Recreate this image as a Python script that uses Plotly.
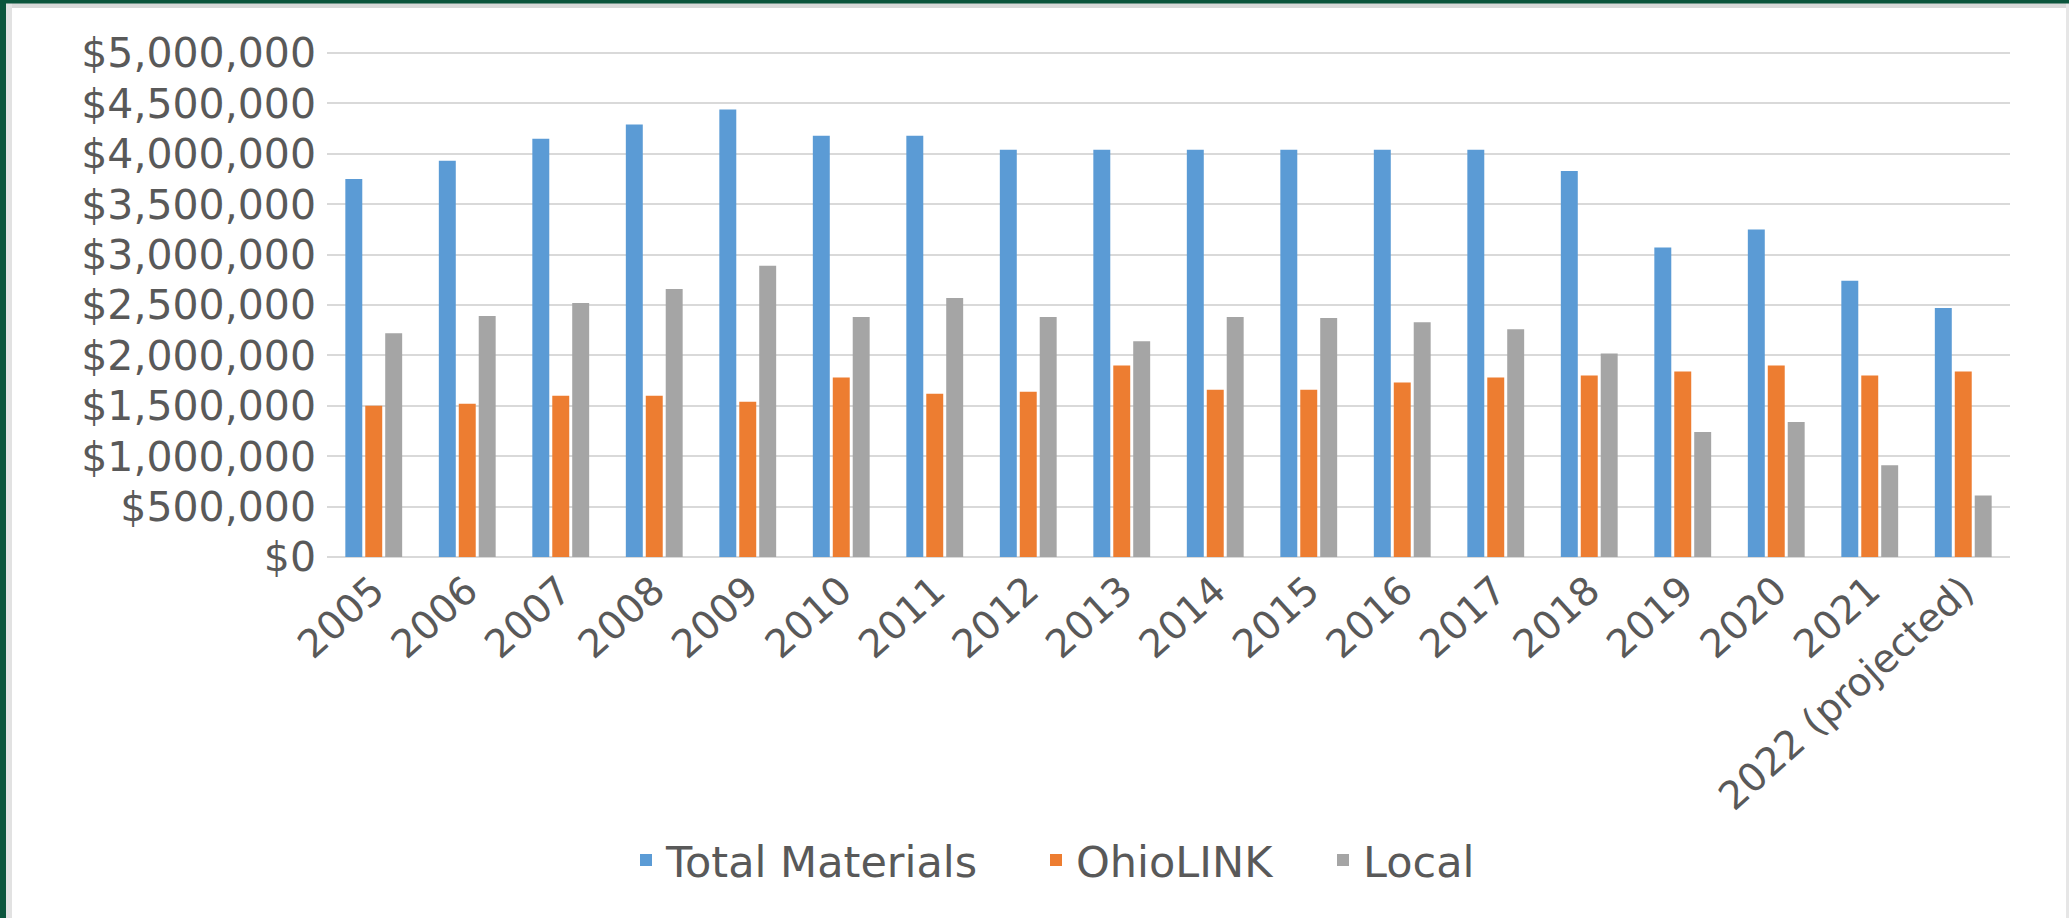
import plotly.graph_objects as go

# ---- data ----
years = ["2005", "2006", "2007", "2008", "2009", "2010", "2011", "2012", "2013",
         "2014", "2015", "2016", "2017", "2018", "2019", "2020", "2021",
         "2022 (projected)"]
total_materials = [3750000, 3930000, 4150000, 4290000, 4440000, 4180000, 4180000,
                   4040000, 4040000, 4040000, 4040000, 4040000, 4040000, 3830000,
                   3070000, 3250000, 2740000, 2470000]
ohiolink = [1500000, 1520000, 1600000, 1600000, 1540000, 1780000, 1620000, 1640000,
            1900000, 1660000, 1660000, 1730000, 1780000, 1800000, 1840000, 1900000,
            1800000, 1840000]
local = [2220000, 2390000, 2520000, 2660000, 2890000, 2380000, 2570000, 2380000,
         2140000, 2380000, 2370000, 2330000, 2260000, 2020000, 1240000, 1340000,
         910000, 610000]
series_names = ["Total Materials", "OhioLINK", "Local"]
y_ticks = list(range(0, 5000001, 500000))

# ---- layout geometry (pixels) ----
W, H = 2069, 918
L, R, T, B = 327, 2010, 51, 557
Y_MAX = 5020000

def px(x):
    return (x - L) / (R - L)

def py(y):
    return (B - y) / (B - T)

FONT = "DejaVu Sans"
TXT = "#595959"
colors = ["#5B9BD5", "#ED7D31", "#A5A5A5"]

fig = go.Figure()
for i, (name, vals) in enumerate(zip(series_names, [total_materials, ohiolink, local])):
    fig.add_trace(go.Bar(
        x=years, y=vals, name=name, showlegend=True,
        marker=dict(color=colors[i], line=dict(width=0)),
        legend="legend" if i == 0 else f"legend{i+1}",
    ))

leg_centers = [646, 1056, 1343]
legend_common = dict(
    orientation="h", xref="container", yref="container",
    xanchor="left", yanchor="middle", y=1 - 860 / H,
    font=dict(family=FONT, size=43, color=TXT),
    bgcolor="rgba(0,0,0,0)", borderwidth=0, itemwidth=30,
)
legends = {}
for i, c in enumerate(leg_centers):
    key = "legend" if i == 0 else f"legend{i+1}"
    legends[key] = dict(legend_common, x=(c - 20) / W)

shapes = [
    # light gray inner frame
    dict(type="rect", xref="paper", yref="paper", x0=px(0), x1=px(W), y0=py(3), y1=py(8),
         fillcolor="#d9d9d9", line=dict(width=0), layer="below"),
    dict(type="rect", xref="paper", yref="paper", x0=px(6), x1=px(12), y0=py(3), y1=py(H),
         fillcolor="#e2e2e2", line=dict(width=0), layer="below"),
    dict(type="rect", xref="paper", yref="paper", x0=px(W - 3), x1=px(W), y0=py(3), y1=py(H),
         fillcolor="#e6e6e6", line=dict(width=0), layer="below"),
    # dark green outer frame
    dict(type="rect", xref="paper", yref="paper", x0=px(0), x1=px(W), y0=py(0), y1=py(3.5),
         fillcolor="#0b553c", line=dict(width=0), layer="above"),
    dict(type="rect", xref="paper", yref="paper", x0=px(0), x1=px(6), y0=py(0), y1=py(H),
         fillcolor="#0b553c", line=dict(width=0), layer="above"),
]

fig.update_layout(
    width=W, height=H,
    margin=dict(l=L, r=W - R, t=T, b=H - B, autoexpand=False),
    paper_bgcolor="white", plot_bgcolor="white",
    barmode="group", bargap=0.36, bargroupgap=0.15,
    font=dict(family=FONT, size=41, color=TXT),
    showlegend=True,
    shapes=shapes,
    **legends,
)
fig.update_yaxes(
    range=[0, Y_MAX], tickvals=y_ticks,
    ticktext=[f"${v:,.0f}" for v in y_ticks],
    showgrid=True, gridcolor="#d9d9d9", gridwidth=2,
    zeroline=True, zerolinecolor="#d9d9d9", zerolinewidth=2,
    showline=False, ticks="", ticklabelstandoff=10,
    tickfont=dict(family=FONT, size=41, color=TXT),
)
fig.update_xaxes(
    tickangle=-42, showgrid=False, showline=False, ticks="",
    tickfont=dict(family=FONT, size=39, color=TXT),
    ticklabelstandoff=2,
)

fig.write_html(
    "out.html",
    config={"displayModeBar": False},
    post_script="document.body.style.margin='0';document.body.style.overflow='hidden';",
)
